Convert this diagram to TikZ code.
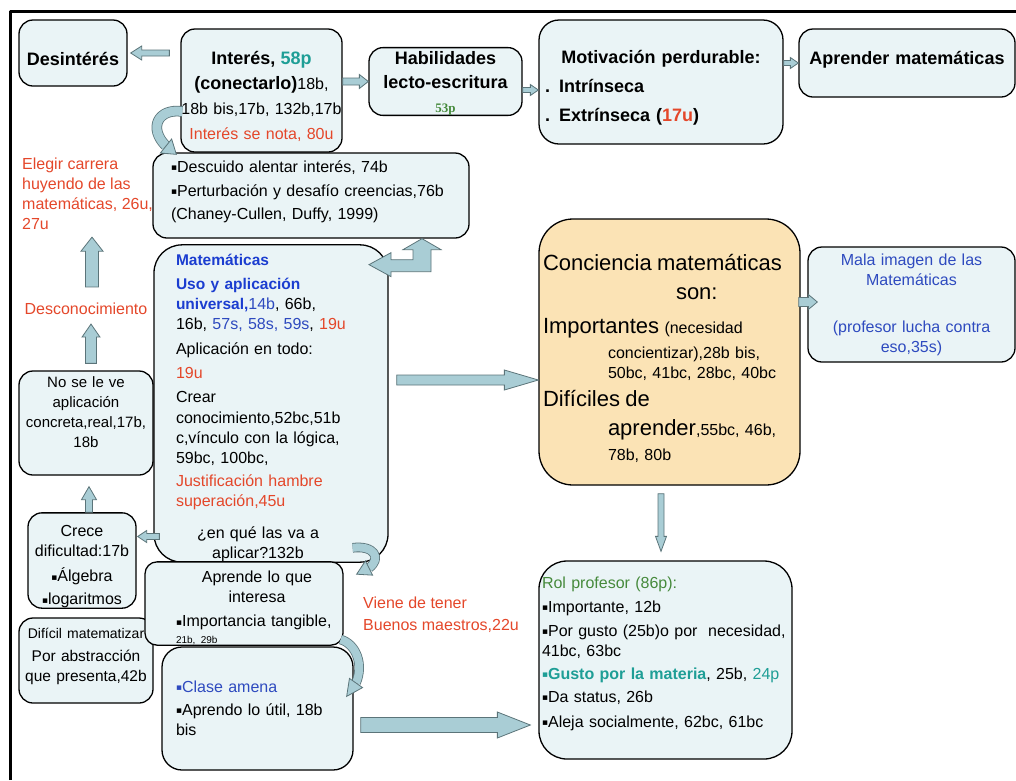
\documentclass[tikz,border=0pt]{standalone}
\usepackage{fontspec}
\setmainfont{Liberation Sans}
\newfontfamily\serifbold{Liberation Serif}
\newfontfamily\bulfont{DejaVu Sans}
\usetikzlibrary{calc}
\definecolor{boxfill}{HTML}{EAF4F6}
\definecolor{peach}{HTML}{FBE3B5}
\definecolor{arrowfill}{HTML}{A9CDD5}
\definecolor{arrowline}{HTML}{5B7479}
\definecolor{redtxt}{HTML}{E4472A}
\definecolor{tealtxt}{HTML}{1E9E96}
\definecolor{bluetxt}{HTML}{2E4ABF}
\definecolor{boldblue}{HTML}{1B3DD0}
\definecolor{greentxt}{HTML}{468A3C}
\lineskiplimit=-100pt
\newcommand{\txtreg}{\fontsize{16}{20}\selectfont}
\newcommand{\txtbold}{\fontsize{18}{24}\selectfont\bfseries}
\newcommand{\txtbig}{\fontsize{22}{20}\selectfont}
\newcommand{\bul}{\raisebox{1.8pt}{\bulfont\fontsize{9}{9}\selectfont ▪}}
% block arrow: start, end, half shaft, half head, head length
\newcommand{\blockarrow}[5]{%
  \path (#1) coordinate (ba-s) (#2) coordinate (ba-e);
  \path ($(ba-e)!#5!(ba-s)$) coordinate (ba-h);
  \filldraw[barrow] ($(ba-s)!#3!90:(ba-e)$) -- ($(ba-h)!#3!-90:(ba-s)$)
    -- ($(ba-h)!#4!-90:(ba-s)$) -- (ba-e) -- ($(ba-h)!#4!90:(ba-s)$)
    -- ($(ba-h)!#3!90:(ba-s)$) -- ($(ba-s)!#3!-90:(ba-e)$) -- cycle;}
% curved arrow: start, control 1, control 2, head base, tip, band, half head
\newcommand{\bentarrow}[7]{%
  \draw[arrowline, line width=#6+1.6pt] (#1) .. controls (#2) and (#3) .. (#4);
  \draw[arrowfill, line width=#6] (#1) .. controls (#2) and (#3) .. (#4);
  \filldraw[barrow] ($(#4)!#7!90:(#5)$) -- (#5) -- ($(#4)!#7!-90:(#5)$) -- cycle;}
\begin{document}
\begin{tikzpicture}[x=1pt,y=-1pt,line join=round,
  box/.style={draw,line width=1.3pt,rounded corners=14pt,fill=boxfill,inner sep=0pt,font=\txtreg},
  note/.style={text=redtxt,inner sep=0pt,align=left,font=\txtreg},
  barrow/.style={fill=arrowfill,draw=arrowline,line width=0.8pt,line join=miter}]
\useasboundingbox (0,0) rectangle (1016,780);
\node[box,minimum width=108,minimum height=66,font=\txtbold,text height=26pt] (des) at (73,53) {Desintérés};
\node[box,minimum width=161,minimum height=123,text width=161,align=center,
  font=\fontsize{16}{25}\selectfont,text height=25pt] (int) at (261.5,90.5)
  {{\txtbold Interés, \textcolor{tealtxt}{58p}}\\
   {\txtbold (conectarlo)}18b,\\
   18b bis,17b, 132b,17b\\
   \textcolor{redtxt}{Interés se nota, 80u}};
\node[box,minimum width=153,minimum height=67,text width=153,align=center,font=\txtbold,text height=17pt] (hab) at (445.5,81.5)
  {Habilidades\\lecto-escritura\\{\serifbold\fontsize{13}{24}\selectfont\color{greentxt}53p}};
\node[box,minimum width=244,minimum height=124,rounded corners=20pt,text width=232,align=left,
  font=\fontsize{18}{29}\selectfont\bfseries,text height=25pt] (mot) at (661,82)
  {\makebox[232pt]{Motivación perdurable:}\\
   . Intrínseca\\
   . Extrínseca (\textcolor{redtxt}{17u})};
\node[box,minimum width=216,minimum height=68,text width=210,align=center,font=\txtbold,text depth=10pt] (apm) at (907,63)
  {Aprender matemáticas};
\node[box,minimum width=316,minimum height=85,text width=280,align=left,
  font=\fontsize{16}{23.5}\selectfont] (dsc) at (311,195.5)
  {\bul Descuido alentar interés, 74b\\
   \bul Perturbación y desafío creencias,76b\\
   (Chaney-Cullen, Duffy, 1999)\\[-13pt]\mbox{}};
\node[box,minimum width=234,minimum height=313,rounded corners=28pt,text width=190,align=left,text height=21pt] (mat) at (271,403.5)
  {{\color{boldblue}\fontsize{15.5}{20}\selectfont\bfseries Matemáticas}\\[4pt]
   {\color{boldblue}\fontsize{15.5}{20}\selectfont\bfseries Uso y aplicación}\\
   {\color{boldblue}\fontsize{15.5}{20}\selectfont\bfseries universal,}\textcolor{bluetxt}{14b}, 66b,\\
   16b, \textcolor{bluetxt}{57s, 58s, 59s}, \textcolor{redtxt}{19u}\\[5pt]
   Aplicación en todo:\\[4pt]
   \textcolor{redtxt}{19u}\\[4pt]
   Crear\\[1pt]
   conocimiento,52bc,51b\\
   c,vínculo con la lógica,\\
   59bc, 100bc,\\[3pt]
   \textcolor{redtxt}{Justificación hambre}\\
   \textcolor{redtxt}{superación,45u}\\[12pt]
   \makebox[164pt]{¿en qué las va a}\\
   \makebox[164pt]{aplicar?132b}};
\node[box,minimum width=261,minimum height=266,rounded corners=34pt,fill=peach,text width=253,align=left,
  text height=29pt] (con) at (669.5,352)
  {{\txtbig Conciencia matemáticas}\\[9pt]
   \hspace*{133pt}{\txtbig son:}\\[14pt]
   {\txtbig Importantes} (necesidad\\[5pt]
   \hspace*{65pt}concientizar),28b bis,\\
   \hspace*{65pt}50bc, 41bc, 28bc, 40bc\\[8pt]
   {\txtbig Difíciles de}\\[9pt]
   \hspace*{65pt}{\txtbig aprender},55bc, 46b,\\[5pt]
   \hspace*{65pt}78b, 80b};
\node[box,minimum width=207,minimum height=115,text width=200,align=center,text=bluetxt] (mal) at (911.5,304.5)
  {Mala imagen de las\\Matemáticas\\[27pt](profesor lucha contra\\eso,35s)};
\node[box,minimum width=253,minimum height=198,rounded corners=28pt,text width=247,align=left] (rol) at (665.5,660)
  {\textcolor{greentxt}{Rol profesor (86p):}\\[4pt]
   \bul Importante, 12b\\[4pt]
   \bul Por gusto (25b)o por\ \ necesidad,\\
   41bc, 63bc\\[3pt]
   {\color{tealtxt}\bfseries\bul Gusto por la materia}, 25b, \textcolor{tealtxt}{24p}\\[3pt]
   \bul Da status, 26b\\[5pt]
   \bul Aleja socialmente, 62bc, 61bc\\[-3.6pt]\mbox{}};
\node[box,minimum width=134,minimum height=104,text width=134,align=center,
  font=\fontsize{15}{20}\selectfont] (nsv) at (86,423)
  {No se le ve\\aplicación\\concreta,real,17b,\\18b\\[2pt]\mbox{}};
\node[box,minimum width=108,minimum height=95,text width=108,align=center,text height=24pt] (cre) at (82,560.5)
  {Crece\\dificultad:17b\\[5pt]\bul Álgebra\\[3pt]\bul logaritmos};
\node[box,minimum width=134,minimum height=85,text width=134,align=center,
  font=\fontsize{15.5}{20}\selectfont] (dif) at (86,660.5)
  {{\fontsize{14}{20}\selectfont Difícil matematizar}\\[3pt]Por abstracción\\que presenta,42b\\[-8.6pt]\mbox{}};
\node[box,minimum width=198,minimum height=83,rounded corners=12pt,text width=136,align=left,text height=21pt] (ali) at (244,603.5)
  {\leavevmode\rlap{\makebox[162pt]{Aprende lo que}}\\
   \leavevmode\rlap{\makebox[162pt]{interesa}}\\[4pt]
   \leavevmode\rlap{\bul Importancia tangible,}\\[-3pt]
   {\fontsize{10}{20}\selectfont 21b, 29b}};
\node[box,minimum width=191,minimum height=123,rounded corners=20pt,text width=163,align=left,
  font=\fontsize{16}{22}\selectfont] (cla) at (257.5,708.5)
  {\textcolor{bluetxt}{\bul Clase amena}\\[1pt]
   \bul Aprendo lo útil, 18b\\[-2pt]
   bis};
\node[note,anchor=north west] (ele) at (22,158) {Elegir carrera\\huyendo de las\\matemáticas, 26u,\\27u};
\node[note] (dsn) at (86,309) {Desconocimiento};
\node[note,anchor=north west,font=\fontsize{16}{22}\selectfont] (vie) at (363,597) {Viene de tener\\Buenos maestros,22u};
\blockarrow{$(int.west|-des.east)+(-11,0)$}{$(des.east)+(3,0)$}{3pt}{7pt}{11pt}
\blockarrow{int.east|-hab.west}{hab.west}{3.5pt}{7pt}{9pt}
\blockarrow{$(hab.east)+(0,8.5)$}{$(mot.west|-hab.east)+(0,8.5)$}{2.5pt}{5.5pt}{8pt}
\blockarrow{mot.east|-apm.west}{apm.west}{2.5pt}{5.5pt}{8pt}
\bentarrow{$(int.west)+(2,21)$}{158,108}{148,128}{166,146}{$(dsc.north west)+(24,2)$}{9pt}{9pt}
\coordinate (bend) at ($(dsc.south)+(111,0)$);
\filldraw[barrow] (bend) -- ++(19,11) -- ++(-10,0) -- ++(0,22) -- ++(-40,0) -- ++(0,5) -- ++(-22,-12)
  -- ++(22,-12) -- ++(0,7) -- ++(22,0) -- ++(0,-10) -- ++(-10,0) -- cycle;
\blockarrow{$(dsn.north)+(6,-16)$}{$(ele.south-|dsn.north)+(6,7)$}{6.5pt}{11pt}{14pt}
\blockarrow{$(nsv.north)+(5,-7)$}{$(dsn.south)+(5,9)$}{5.5pt}{9pt}{13pt}
\blockarrow{$(cre.north)+(7,0)$}{$(nsv.south)+(3,11)$}{3.5pt}{7.5pt}{13pt}
\blockarrow{$(mat.west)+(6,133)$}{$(cre.east|-mat.west)+(1,133)$}{3pt}{6pt}{9pt}
\blockarrow{$(mat.east)+(8,-23.5)$}{$(con.west|-mat.east)+(0,-23.5)$}{5pt}{10pt}{34pt}
\blockarrow{$(con.east)+(-2,-50)$}{$(mal.west|-con.east)+(10,-50)$}{4.5pt}{7.5pt}{9pt}
\blockarrow{$(con.south)+(-8.5,8)$}{$(rol.north-|con.south)+(-8.5,-9)$}{3pt}{5.5pt}{15pt}
\blockarrow{$(cla.east)+(7,16.5)$}{$(rol.west|-cla.east)+(-8,16.5)$}{7.5pt}{13pt}{33pt}
\bentarrow{$(mat.south east)+(-36,-15)$}{374,545}{382,558}{369,568}{$(ali.north east)+(13,13)$}{8pt}{8pt}
\bentarrow{$(ali.east)+(-3,36)$}{356,644}{364,664}{356,683}{$(cla.north east)+(-7,50)$}{8pt}{8pt}
\draw[line width=3pt] (10,780) -- (10,11) -- (1016,11);
\end{tikzpicture}
\end{document}
